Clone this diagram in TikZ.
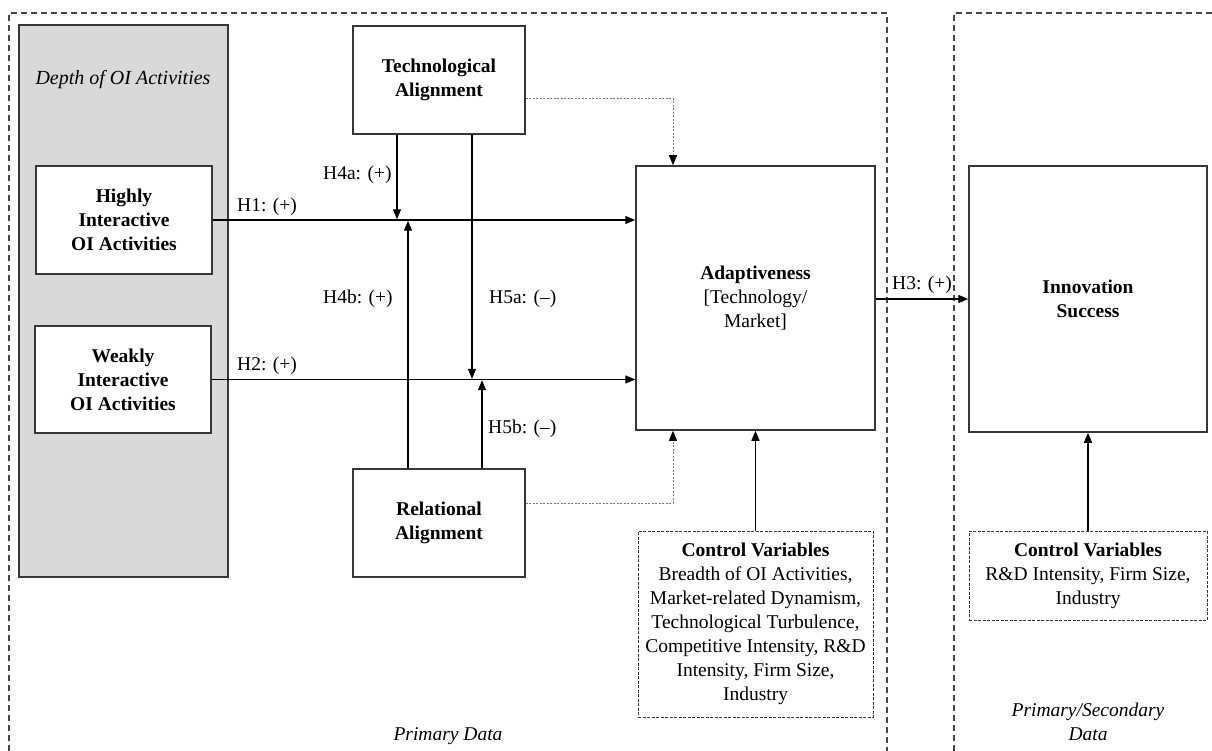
\documentclass[tikz,border=0pt]{standalone}
\usepackage{fontspec}
\setmainfont{Liberation Serif}
\usetikzlibrary{arrows.meta}
\newcommand\myfs{\fontsize{19.5}{24}\selectfont}
\definecolor{boxgray}{RGB}{217,217,217}
\definecolor{linegray}{RGB}{55,55,55}
\definecolor{framegray}{RGB}{70,70,70}
\definecolor{dotgray}{RGB}{120,120,120}
\begin{document}
\begin{tikzpicture}[x=1pt,y=-1pt,
  box/.style={draw=linegray, line width=1.5pt, fill=white, align=center, inner sep=0pt, font=\myfs\bfseries},
  ctrlbox/.style={draw=linegray, line width=1pt, dash pattern=on 3pt off 1.5pt, fill=white, align=center, inner sep=0pt, font=\myfs},
  framebox/.style={draw=framegray, line width=1.3pt, dash pattern=on 6pt off 4pt},
  arr/.style={draw=black, line width=1.3pt, -{Triangle[length=10pt,width=8pt]}},
  dotarr/.style={draw=dotgray, line width=0.9pt, dash pattern=on 2pt off 1.5pt, -{Triangle[length=10pt,width=8pt,color=black]}},
  lbl/.style={inner sep=0pt, font=\myfs},
  itl/.style={inner sep=0pt, font=\myfs\itshape, align=center}
]
\useasboundingbox (0,0) rectangle (1212,751);

% dashed frames
\coordinate (fl1) at (9,751);
\coordinate (fl2) at (9,13);
\coordinate (fl3) at (887,13);
\coordinate (fl4) at (887,751);
\coordinate (fr1) at (954,751);
\coordinate (fr2) at (954,13);
\coordinate (fr3) at (1212,13);
\draw[framebox] (fl1) -- (fl2) -- (fl3) -- (fl4);
\draw[framebox] (fr1) -- (fr2) -- (fr3);

% gray group
\node[draw=linegray, line width=1.5pt, fill=boxgray, minimum width=209pt, minimum height=552pt, inner sep=0pt] (depth) at (123.5,301) {};
\node[itl, font=\fontsize{20}{24}\selectfont\itshape] (depthlbl) at (123,80) {Depth of OI Activities};

% boxes
\node[box, minimum width=176pt, minimum height=108pt] (high) at (124,220) {Highly\\Interactive\\OI Activities};
\node[box, minimum width=176pt, minimum height=107pt] (weak) at (123,379.5) {Weakly\\Interactive\\OI Activities};
\node[box, minimum width=172pt, minimum height=108pt] (tech) at (439,80) {Technological\\Alignment};
\node[box, minimum width=172pt, minimum height=108pt] (rel) at (439,523) {Relational\\Alignment};
\node[box, minimum width=239pt, minimum height=264pt] (adapt) at (755.5,298) {Adaptiveness\\\mdseries{[}Technology/\\\mdseries Market{]}};
\node[box, minimum width=238pt, minimum height=266pt] (innov) at (1088,299) {Innovation\\Success};
\node[ctrlbox, minimum width=235pt, minimum height=186pt] (ctrlA) at (755.5,624) {\textbf{Control Variables}\\Breadth of OI Activities,\\Market-related Dynamism,\\Technological Turbulence,\\Competitive Intensity, R\&D\\Intensity, Firm Size,\\Industry};
\node[ctrlbox, minimum width=238pt, minimum height=89pt] (ctrlB) at (1088,575.5) {\textbf{Control Variables}\\R\&D Intensity, Firm Size,\\Industry};

% junction coordinates
\coordinate (j1) at (397,219.3);
\coordinate (j2) at (408,220.7);
\coordinate (j3) at (472,378.8);
\coordinate (j4) at (482,380.2);
\coordinate (d1) at (673,98);
\coordinate (d2) at (673,503);

% main arrows
\draw[arr] (high.east) -- (adapt.west |- high.east);
\draw[arr] (weak.east) -- (adapt.west |- weak.east);
\draw[arr] (adapt.east |- innov.west) -- (innov.west);
\draw[arr] (tech.south -| j1) -- (j1);
\draw[arr] (rel.north -| j2) -- (j2);
\draw[arr] (tech.south -| j3) -- (j3);
\draw[arr] (rel.north -| j4) -- (j4);
\draw[arr] (ctrlA.north) -- (adapt.south);
\draw[arr] (ctrlB.north) -- (innov.south);

% dotted arrows
\draw[dotarr] (tech.east |- d1) -- (d1) -- (d1 |- adapt.north);
\draw[dotarr] (rel.east |- d2) -- (d2) -- (d2 |- adapt.south);

% labels
\node[lbl, anchor=west] (h1) at (237,207) {H1: (+)};
\node[lbl, anchor=west] (h4a) at (323,175) {H4a: (+)};
\node[lbl, anchor=west] (h4b) at (323,299) {H4b: (+)};
\node[lbl, anchor=west] (h5a) at (489,299) {H5a: (–)};
\node[lbl, anchor=west] (h2) at (237,366) {H2: (+)};
\node[lbl, anchor=west] (h5b) at (488,429) {H5b: (–)};
\node[lbl, anchor=west] (h3) at (892,285) {H3: (+)};

\node[itl] (prim) at (448,736) {Primary Data};
\node[itl] (primsec) at (1088,722) {Primary/Secondary\\Data};
\end{tikzpicture}
\end{document}
